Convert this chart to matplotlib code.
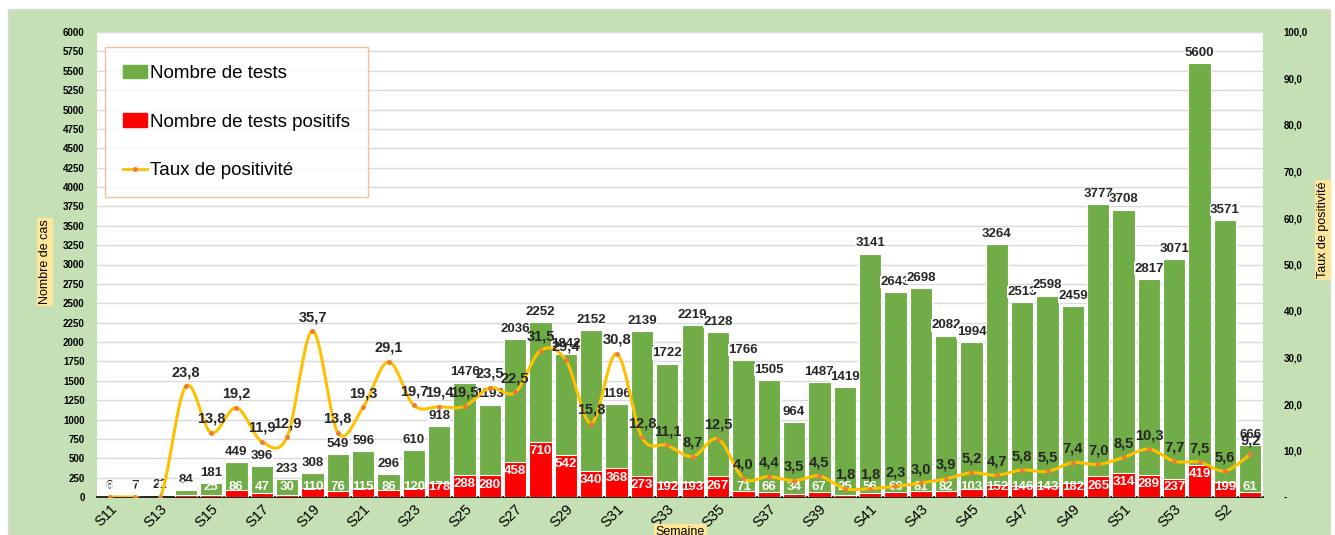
import numpy as np
import matplotlib.pyplot as plt
from matplotlib.patches import Rectangle, Patch
from matplotlib.lines import Line2D

plt.rcParams['font.family'] = ['Liberation Sans', 'DejaVu Sans']

# Data
semaines = ['S%d' % i for i in range(11, 54)] + ['S1', 'S2', 'S3']
tests = [6, 7, 22, 84, 181, 449, 396, 233, 308, 549, 596, 296, 610, 918, 1476, 1193,
         2036, 2252, 1842, 2152, 1196, 2139, 1722, 2219, 2128, 1766, 1505, 964, 1487, 1419,
         3141, 2643, 2698, 2082, 1994, 3264, 2513, 2598, 2459, 3777, 3708, 2817, 3071,
         5600, 3571, 666]
positifs = [0, 0, 2, 20, 25, 86, 47, 30, 110, 76, 115, 86, 120, 178, 288, 280,
            458, 710, 542, 340, 368, 273, 192, 193, 267, 71, 66, 34, 67, 25,
            56, 60, 81, 82, 103, 152, 146, 143, 182, 265, 314, 289, 237,
            419, 199, 61]
taux = [0, 0, 0, 23.8, 13.8, 19.2, 11.9, 12.9, 35.7, 13.8, 19.3, 29.1, 19.7, 19.4, 19.5, 23.5,
        22.5, 31.5, 29.4, 15.8, 30.8, 12.8, 11.1, 8.7, 12.5, 4.0, 4.4, 3.5, 4.5, 1.8,
        1.8, 2.3, 3.0, 3.9, 5.2, 4.7, 5.8, 5.5, 7.4, 7.0, 8.5, 10.3, 7.7,
        7.5, 5.6, 9.2]

GREEN = '#70AD47'
RED = '#FF0000'
GOLD = '#FFC000'
BG = '#C5E0B4'
TAG = '#FFE699'


def smooth_line(x, y, n=24):
    # Bezier smoothing like a spreadsheet "smoothed line"
    x = np.asarray(x, float)
    y = np.asarray(y, float)
    px = np.concatenate([[x[0]], x, [x[-1]]])
    py = np.concatenate([[y[0]], y, [y[-1]]])
    t = np.linspace(0, 1, n)
    xs, ys = [], []
    for i in range(1, len(px) - 2):
        x0, x1, x2, x3 = px[i - 1], px[i], px[i + 1], px[i + 2]
        y0, y1, y2, y3 = py[i - 1], py[i], py[i + 1], py[i + 2]
        cx1, cy1 = x1 + (x2 - x0) / 6, y1 + (y2 - y0) / 6
        cx2, cy2 = x2 - (x3 - x1) / 6, y2 - (y3 - y1) / 6
        b0 = (1 - t) ** 3
        b1 = 3 * (1 - t) ** 2 * t
        b2 = 3 * (1 - t) * t ** 2
        b3 = t ** 3
        xs.append(b0 * x1 + b1 * cx1 + b2 * cx2 + b3 * x2)
        ys.append(b0 * y1 + b1 * cy1 + b2 * cy2 + b3 * y2)
    return np.concatenate(xs), np.concatenate(ys)


fig = plt.figure(figsize=(13.35, 5.35), dpi=100)
fig.patches.append(Rectangle((8 / 1335, 0), 1322 / 1335, 1 - 9 / 535,
                             transform=fig.transFigure, facecolor=BG, edgecolor='#D9D9D9',
                             lw=1, zorder=-10))

ax = fig.add_axes([97 / 1335, 38 / 535, 1166 / 1335, 465 / 535])
ax.set_facecolor('white')
x = np.arange(len(semaines))

ax.bar(x, tests, width=0.88, color=GREEN, edgecolor='white', linewidth=0.8, zorder=2)
ax.bar(x, positifs, width=0.88, color=RED, edgecolor='white', linewidth=0.8, zorder=3)

ax.set_xlim(-0.5, len(semaines) - 0.5)
ax.set_ylim(0, 6000)
ax.set_yticks(np.arange(0, 6001, 250))
ax.set_yticklabels([str(v) for v in range(0, 6001, 250)], fontsize=7, fontweight='bold')
ax.grid(axis='y', color='#D9D9D9', linewidth=1, zorder=0)
ax.set_axisbelow(True)
for s in ['top', 'right', 'left']:
    ax.spines[s].set_visible(False)
ax.spines['bottom'].set_color('black')
ax.spines['bottom'].set_linewidth(1.2)
ax.tick_params(axis='y', length=0, pad=9)
ax.tick_params(axis='x', length=0)
ax.set_xticks(x[::2])
ax.set_xticklabels(semaines[::2], rotation=45, ha='right', va='top', fontsize=10.5,
                   rotation_mode='anchor')

# value labels on bars
for xi, v in zip(x, tests):
    ax.annotate(str(v), (xi, v), xytext=(0, 3), textcoords='offset points', ha='center',
                va='bottom', fontsize=9.5, fontweight='bold', color='#262626', zorder=6,
                bbox=dict(boxstyle='square,pad=0.02', fc='white', ec='none'))
for xi, v in zip(x, positifs):
    ax.text(xi, max(v - 120, 125), str(v), ha='center', va='center', fontsize=9.5,
            fontweight='bold', color='white', zorder=6)

# rate on secondary axis
ax2 = ax.twinx()
ax2.set_ylim(0, 100)
ax2.set_yticks(np.arange(0, 101, 10))
ax2.set_yticklabels(['-'] + [('%.1f' % v).replace('.', ',') for v in range(10, 101, 10)],
                    fontsize=7, fontweight='bold')
ax2.tick_params(axis='y', length=0, pad=15)
for s in ax2.spines.values():
    s.set_visible(False)
sx, sy = smooth_line(x, taux)
ax2.plot(sx, sy, color=GOLD, linewidth=2.2, zorder=4)
ax2.plot(x, taux, 'o', color='#ED7D31', markersize=2.5, zorder=5)
for xi, v in zip(x, taux):
    if v == 0:
        continue
    ax2.annotate(('%.1f' % v).replace('.', ','), (xi, v), xytext=(0, 5),
                 textcoords='offset points', ha='center', va='bottom', fontsize=10.5,
                 fontweight='bold', color='#262626', zorder=7)

# axis titles
fig.text(45 / 1335, 1 - 262 / 535, 'Nombre de cas', rotation=90, ha='center', va='center',
         fontsize=9, zorder=10, bbox=dict(boxstyle='square,pad=0.15', fc=TAG, ec='none'))
fig.text(1323 / 1335, 1 - 230 / 535, 'Taux de positivité', rotation=90, ha='center',
         va='center', fontsize=9, zorder=10,
         bbox=dict(boxstyle='square,pad=0.15', fc=TAG, ec='none'))
fig.text(680 / 1335, 1 - 532 / 535, 'Semaine', ha='center', va='center', fontsize=9,
         zorder=10, bbox=dict(boxstyle='square,pad=0.15', fc=TAG, ec='none'))

# legend
handles = [Patch(color=GREEN, label='Nombre de tests'),
           Patch(color=RED, label='Nombre de tests positifs'),
           Line2D([0], [0], color=GOLD, lw=2, marker='o', markersize=2.5,
                  markerfacecolor='#ED7D31', markeredgecolor='#ED7D31',
                  label='Taux de positivité')]
leg = ax2.legend(handles=handles, loc='upper left', bbox_to_anchor=(8 / 1166, 1 - 15 / 465),
                 fontsize=13.5, frameon=True, fancybox=False, labelspacing=1.68,
                 handlelength=1.3, handletextpad=0.15, borderpad=0.95, borderaxespad=0)
leg.get_frame().set_edgecolor('#F4B183')
leg.get_frame().set_linewidth(1)

fig.savefig('out.png', dpi=100, facecolor='white')
